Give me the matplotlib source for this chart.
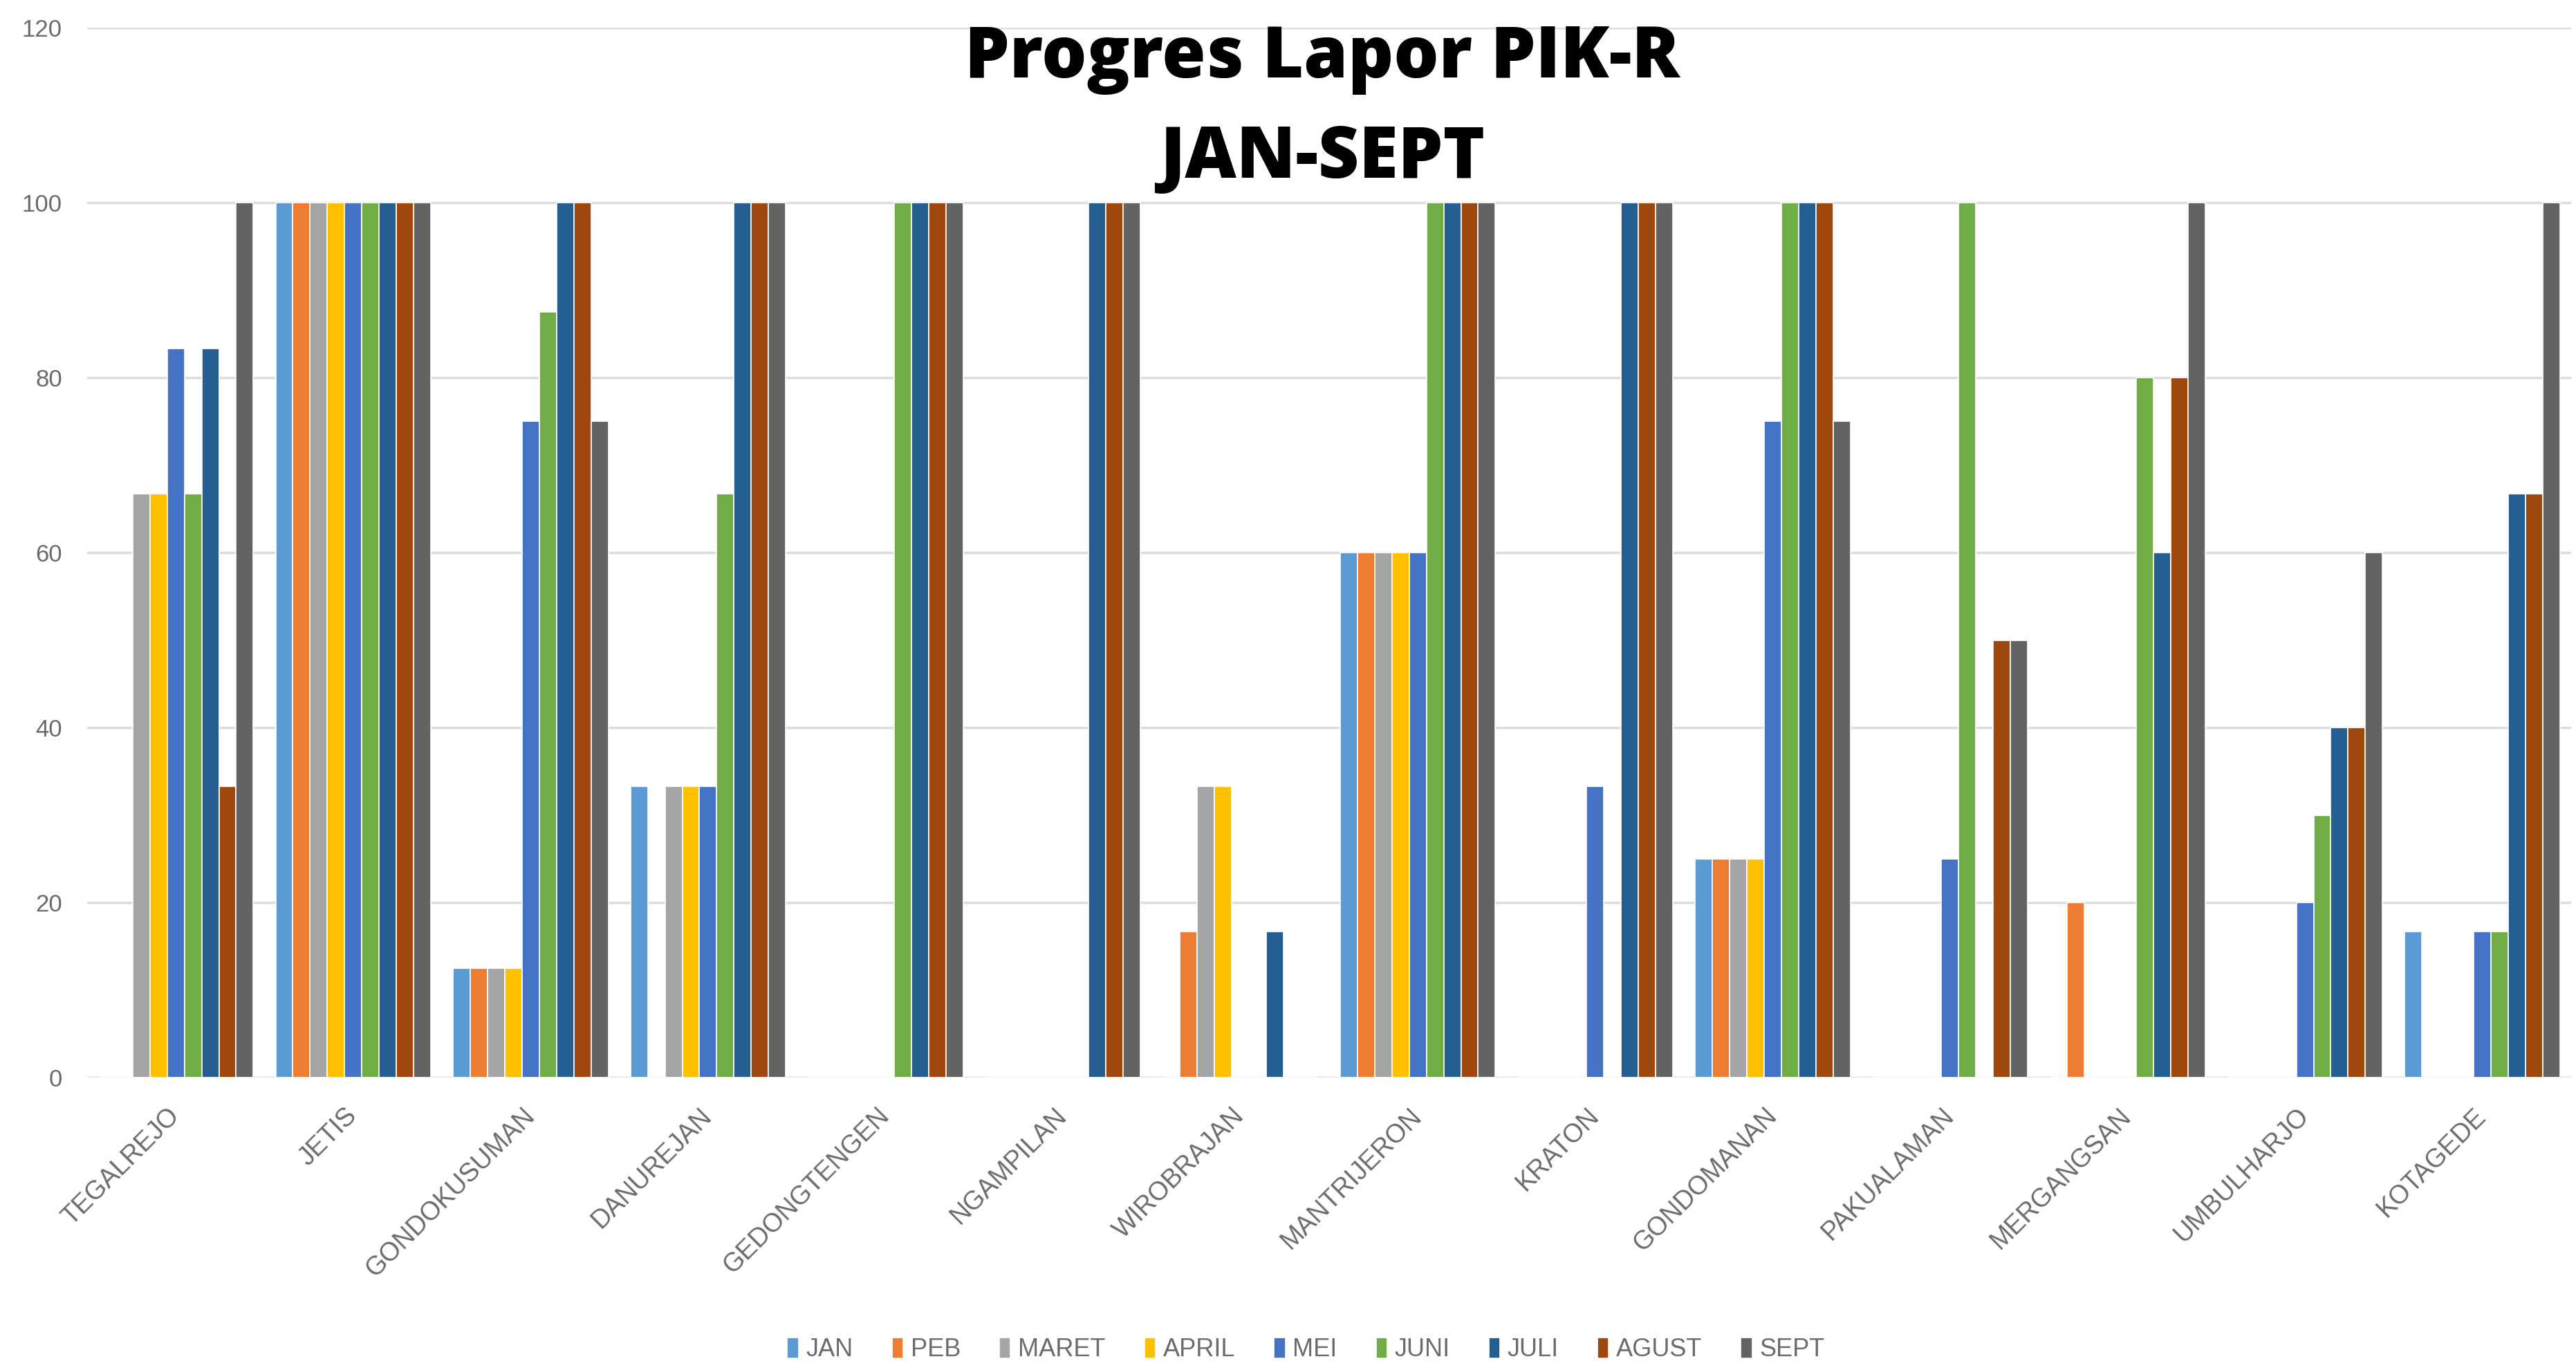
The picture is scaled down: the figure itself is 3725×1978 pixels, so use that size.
import matplotlib
matplotlib.use('Agg')
import matplotlib.pyplot as plt
import numpy as np

# kecamatan
categories = ['TEGALREJO', 'JETIS', 'GONDOKUSUMAN', 'DANUREJAN', 'GEDONGTENGEN',
              'NGAMPILAN', 'WIROBRAJAN', 'MANTRIJERON', 'KRATON', 'GONDOMANAN',
              'PAKUALAMAN', 'MERGANGSAN', 'UMBULHARJO', 'KOTAGEDE']

months = ['JAN', 'PEB', 'MARET', 'APRIL', 'MEI', 'JUNI', 'JULI', 'AGUST', 'SEPT']
colors = ['#5B9BD5', '#ED7D31', '#A5A5A5', '#FFC000', '#4472C4',
          '#70AD47', '#255E91', '#9E480E', '#636363']

jan   = [0, 100, 12.5, 33.3, 0, 0, 0, 60, 0, 25, 0, 0, 0, 16.7]
peb   = [0, 100, 12.5, 0, 0, 0, 16.7, 60, 0, 25, 0, 20, 0, 0]
maret = [66.7, 100, 12.5, 33.3, 0, 0, 33.3, 60, 0, 25, 0, 0, 0, 0]
april = [66.7, 100, 12.5, 33.3, 0, 0, 33.3, 60, 0, 25, 0, 0, 0, 0]
mei   = [83.3, 100, 75, 33.3, 0, 0, 0, 60, 33.3, 75, 25, 0, 20, 16.7]
juni  = [66.7, 100, 87.5, 66.7, 100, 0, 0, 100, 0, 100, 100, 80, 30, 16.7]
juli  = [83.3, 100, 100, 100, 100, 100, 16.7, 100, 100, 100, 0, 60, 40, 66.7]
agust = [33.3, 100, 100, 100, 100, 100, 0, 100, 100, 100, 50, 80, 40, 66.7]
sept  = [100, 100, 75, 100, 100, 100, 0, 100, 100, 75, 50, 100, 60, 100]

series = [jan, peb, maret, april, mei, juni, juli, agust, sept]

plt.rcParams['font.family'] = ['Liberation Sans', 'DejaVu Sans']
text_color = '#6b6b6b'

fig = plt.figure(figsize=(37.25, 19.78), dpi=100)
ax = fig.add_axes([0.0338, 0.2123, 0.9643, 0.7675])

x = np.arange(len(categories))
w = 0.0972
for k, (vals, name, c) in enumerate(zip(series, months, colors)):
    ax.bar(x + (k - 4) * w, vals, width=w, color=c, edgecolor='white',
           linewidth=1.2, label=name, zorder=3)

ax.set_xlim(-0.5, len(categories) - 0.5)
ax.set_ylim(0, 120)
ax.set_yticks(range(0, 121, 20))
ax.grid(axis='y', color='#DCDCDC', linewidth=2.5, zorder=0)
ax.set_axisbelow(True)
for s in ax.spines.values():
    s.set_visible(False)

ax.tick_params(axis='y', length=0, pad=26, labelsize=25, labelcolor=text_color)
ax.tick_params(axis='x', length=0, pad=36, labelsize=27, labelcolor=text_color)
ax.set_xticks(x)
ax.set_xticklabels(categories, rotation=45, ha='right', va='center',
                   rotation_mode='anchor')

title_font = ['Open Sans', 'DejaVu Sans']
fig.text(0.5133, 0.9434, 'Progres Lapor PIK-R', ha='center', va='baseline',
         fontsize=74, fontweight='heavy', family=title_font, color='black')
fig.text(0.5133, 0.8701, 'JAN-SEPT', ha='center', va='baseline',
         fontsize=74, fontweight='heavy', family=title_font, color='black')

fig.legend(loc='center', bbox_to_anchor=(0.507, 0.0135), ncol=9, frameon=False,
           fontsize=26, labelcolor=text_color, handlelength=0.45,
           handleheight=0.9, handletextpad=0.3, columnspacing=1.55)

fig.savefig('out.png', dpi=100)
